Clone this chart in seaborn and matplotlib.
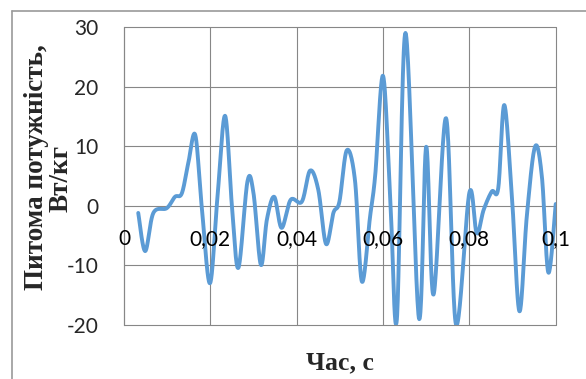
import numpy as np
import matplotlib
matplotlib.use("Agg")
import matplotlib.pyplot as plt
from matplotlib.lines import Line2D
import seaborn as sns

# точки кривої (час, с; питома потужність, Вт/кг)
time_s = [0.0033, 0.0049, 0.0068, 0.0099, 0.0118, 0.0134, 0.0149, 0.0165, 0.0180, 0.0199,
          0.0216, 0.0234, 0.0250, 0.0265, 0.0286, 0.0300, 0.0317, 0.0331, 0.0348, 0.0365,
          0.0386, 0.0412, 0.0431, 0.0450, 0.0468, 0.0485, 0.0499, 0.0516, 0.0535, 0.0551,
          0.0570, 0.0582, 0.0600, 0.0617, 0.0632, 0.0652, 0.0683, 0.0700, 0.0717, 0.0746,
          0.0769, 0.0800, 0.0817, 0.0833, 0.0852, 0.0867, 0.0881, 0.0899, 0.0916, 0.0933,
          0.0952, 0.0968, 0.0983, 0.1000]
power = [-1.2, -7.6, -1.2, -0.4, 1.5, 2.1, 7.2, 11.9, -0.1, -13.0,
         1.0, 15.1, 0.0, -10.4, 4.1, 2.1, -9.9, -2.3, 1.5, -3.7,
         1.0, 0.7, 5.9, 2.7, -6.4, -1.2, 0.7, 9.3, 4.3, -12.7,
         -1.8, 5.2, 21.8, 1.0, -19.1, 29.0, -18.8, 9.9, -14.9, 14.7,
         -19.9, 2.2, -4.6, -0.7, 2.4, 3.0, 16.9, 1.0, -17.7, -1.8,
         9.9, 4.9, -11.2, 0.3]

x_ticks = [0, 0.02, 0.04, 0.06, 0.08, 0.1]
x_tick_labels = ["0", "0,02", "0,04", "0,06", "0,08", "0,1"]
y_ticks = [-20, -10, 0, 10, 20, 30]


def smooth_line(xs, ys, n=24):
    # згладжування як у Excel (Catmull-Rom / Безьє)
    p = np.column_stack([xs, ys])
    p = np.vstack([p[0], p, p[-1]])
    out = []
    t = np.linspace(0, 1, n, endpoint=False)[:, None]
    for i in range(1, len(p) - 2):
        p0, p1, p2, p3 = p[i - 1], p[i], p[i + 1], p[i + 2]
        seg = 0.5 * (2 * p1 + (-p0 + p2) * t + (2 * p0 - 5 * p1 + 4 * p2 - p3) * t ** 2
                     + (-p0 + 3 * p1 - 3 * p2 + p3) * t ** 3)
        out.append(seg)
    out.append(p[-2][None, :])
    out = np.vstack(out)
    return out[:, 0], out[:, 1]


sns.set_style("white")
plt.rcParams["axes.unicode_minus"] = False
grid_c = "#878787"

fig = plt.figure(figsize=(5.86, 3.79), dpi=100)
ax = fig.add_axes([0.2116, 0.1425, 0.7367, 0.7863])

# вертикальна сітка окремо, щоб підписи осі X були над лінією
for xt in x_ticks:
    ax.axvline(xt, color=grid_c, lw=0.8, zorder=0.6, clip_on=False)

sx, sy = smooth_line(time_s, power)
sns.lineplot(x=sx, y=sy, sort=False, estimator=None, color="#5B9BD5", lw=2.8, ax=ax, zorder=2)

ax.set_xlim(0, 0.1)
ax.set_ylim(-20, 30)
ax.set_xticks(x_ticks)
ax.set_xticklabels(x_tick_labels)
ax.set_yticks(y_ticks)
ax.grid(True, axis="y", color=grid_c, lw=0.8)
for gl in ax.get_ygridlines():
    gl.set_clip_on(False)
ax.xaxis.set_zorder(3)

for s in ["top", "right"]:
    ax.spines[s].set_visible(False)
ax.spines["bottom"].set_position(("data", 0))
ax.spines["bottom"].set_visible(False)
ax.spines["left"].set_color(grid_c)
ax.spines["left"].set_linewidth(0.8)

ax.tick_params(axis="x", length=0, pad=17, labelsize=15, labelcolor="black")
ax.tick_params(axis="y", length=6.5, width=0.8, color=grid_c, pad=12, labelsize=15)
for lab in ax.get_xticklabels() + ax.get_yticklabels():
    lab.set_fontfamily("Lato")

serif = dict(fontfamily="Liberation Serif", fontweight="bold")
fig.text(37 / 586, 1 - 167 / 379, "Питома потужність,", rotation=90,
         ha="center", va="center", fontsize=19.5, **serif)
fig.text(61 / 586, 1 - 178 / 379, "Вт/кг", rotation=90, ha="center", va="center",
         fontsize=19.5, **serif)
fig.text(340 / 586, 1 - 363 / 379, "Час, с", ha="center", va="center", fontsize=18.5, **serif)

# рамка області діаграми
border = "#9a9a9a"
fig.add_artist(Line2D([12 / 586, 1], [1 - 10.7 / 379] * 2, color=border, lw=1.2))
fig.add_artist(Line2D([12 / 586] * 2, [0, 1 - 10.7 / 379], color=border, lw=1.2))

fig.savefig("out.png", dpi=100)
